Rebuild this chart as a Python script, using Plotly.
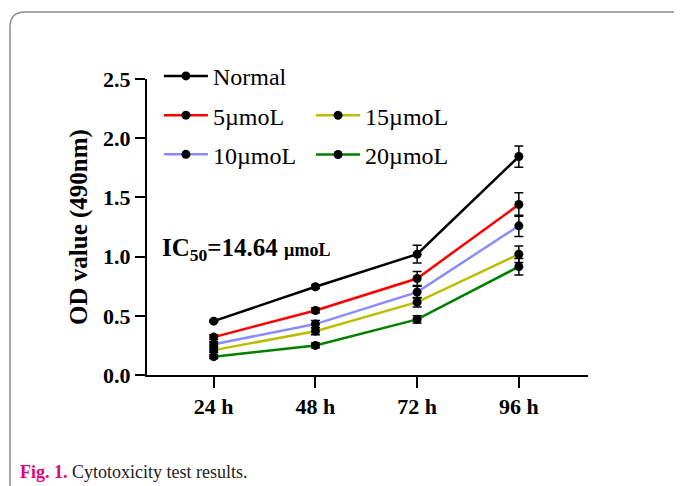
import plotly.graph_objects as go

times = ["24 h", "48 h", "72 h", "96 h"]
series_names = ["Normal", "5µmoL", "10µmoL", "15µmoL", "20µmoL"]
normal = [0.455, 0.745, 1.02, 1.845]
c5 = [0.32, 0.545, 0.815, 1.44]
c10 = [0.26, 0.43, 0.70, 1.26]
c15 = [0.21, 0.37, 0.615, 1.02]
c20 = [0.155, 0.25, 0.47, 0.915]
err_normal = [0.01, 0.015, 0.075, 0.09]
err_c5 = [0.02, 0.02, 0.06, 0.10]
err_c10 = [0.02, 0.03, 0.05, 0.09]
err_c15 = [0.02, 0.03, 0.04, 0.07]
err_c20 = [0.015, 0.02, 0.03, 0.07]
colors = ["#000000", "#ff0000", "#8c8cff", "#bdbd00", "#008000"]
legend_ids = ["legend", "legend", "legend", "legend2", "legend2"]

values = [normal, c5, c10, c15, c20]
errors = [err_normal, err_c5, err_c10, err_c15, err_c20]

SERIF = "Liberation Serif, Times New Roman, serif"

fig = go.Figure()
for name, vals, errs, col, lg in zip(series_names, values, errors, colors, legend_ids):
    fig.add_trace(go.Scatter(
        x=times, y=vals, name=name, mode="lines+markers",
        line=dict(color=col, width=2.5),
        marker=dict(color="black", size=9),
        error_y=dict(type="data", array=errs, visible=True, color="black", thickness=1.5, width=4.5),
        legend=lg, legendgroup=name,
    ))

fig.update_layout(
    width=674, height=478,
    margin=dict(l=139, r=94, t=71, b=111),
    paper_bgcolor="white", plot_bgcolor="white",
    font=dict(family=SERIF, color="black"),
    xaxis=dict(
        type="category", range=[-0.656, 3.68],
        showline=True, linecolor="black", linewidth=2,
        ticks="outside", ticklen=11, tickwidth=2, tickcolor="black",
        tickfont=dict(size=22, family=SERIF, weight="bold"),
        showgrid=False, zeroline=False,
    ),
    yaxis=dict(
        range=[0, 2.5], tickvals=[0, 0.5, 1.0, 1.5, 2.0, 2.5],
        ticktext=["0.0", "0.5", "1.0", "1.5", "2.0", "2.5"],
        showline=True, linecolor="black", linewidth=2,
        ticks="outside", ticklen=10, tickwidth=2, tickcolor="black",
        tickfont=dict(size=22, family=SERIF, weight="bold"),
        showgrid=False, zeroline=False,
        title=dict(text="OD value (490nm)", font=dict(size=25, family=SERIF, weight="bold"), standoff=8),
    ),
    legend=dict(
        x=0.027, y=1.085, xanchor="left", yanchor="top",
        font=dict(size=24, family=SERIF), itemwidth=44, tracegroupgap=5,
        bgcolor="rgba(0,0,0,0)", traceorder="grouped",
    ),
    legend2=dict(
        x=0.372, y=0.952, xanchor="left", yanchor="top",
        font=dict(size=24, family=SERIF), itemwidth=44, tracegroupgap=5,
        bgcolor="rgba(0,0,0,0)", traceorder="grouped",
    ),
    showlegend=True,
)

fig.add_annotation(
    xref="paper", yref="paper", x=0.03, y=0.424, xanchor="left", yanchor="middle",
    text="<b>IC<sub>50</sub>=14.64 <span style='font-size:18px'>µmoL</span></b>",
    showarrow=False, font=dict(size=25, family=SERIF, color="black"),
)

fig.add_annotation(
    xref="paper", yref="paper", x=-0.2925, y=-0.328, xanchor="left", yanchor="middle",
    text="<b><span style='color:#e5007e'>Fig. 1.</span></b> <span style='color:#222'>Cytotoxicity test results.</span>",
    showarrow=False, font=dict(size=18, family=SERIF),
)

# decorative frame with rounded top-left corner
fig.add_shape(
    type="path", xref="paper", yref="paper",
    path="M -0.3107,-0.45 L -0.3107,1.175 Q -0.3107,1.2264 -0.2767,1.2264 L 1.3,1.2264",
    line=dict(color="#8a8a8a", width=1.5), layer="below",
)

fig.write_html("out.html")
